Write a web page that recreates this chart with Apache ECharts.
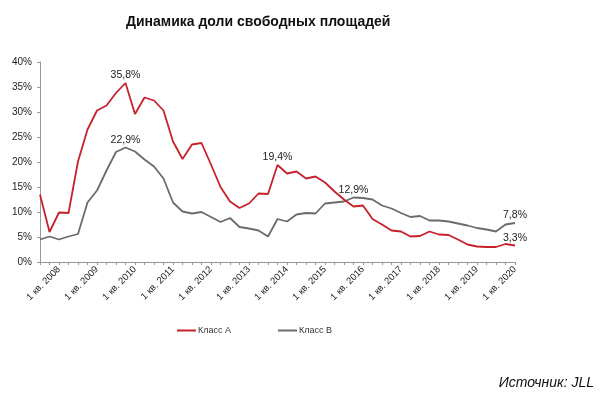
<!DOCTYPE html>
<html>
<head>
<meta charset="utf-8">
<script src="https://cdn.jsdelivr.net/npm/echarts@6/dist/echarts.min.js"></script>
<style>html,body{margin:0;padding:0;background:#fff}#c{width:600px;height:397px}</style>
</head>
<body>
<div id="c"></div>
<script>
const categories = [
  "3 кв. 2007","4 кв. 2007",
  "1 кв. 2008","2 кв. 2008","3 кв. 2008","4 кв. 2008",
  "1 кв. 2009","2 кв. 2009","3 кв. 2009","4 кв. 2009",
  "1 кв. 2010","2 кв. 2010","3 кв. 2010","4 кв. 2010",
  "1 кв. 2011","2 кв. 2011","3 кв. 2011","4 кв. 2011",
  "1 кв. 2012","2 кв. 2012","3 кв. 2012","4 кв. 2012",
  "1 кв. 2013","2 кв. 2013","3 кв. 2013","4 кв. 2013",
  "1 кв. 2014","2 кв. 2014","3 кв. 2014","4 кв. 2014",
  "1 кв. 2015","2 кв. 2015","3 кв. 2015","4 кв. 2015",
  "1 кв. 2016","2 кв. 2016","3 кв. 2016","4 кв. 2016",
  "1 кв. 2017","2 кв. 2017","3 кв. 2017","4 кв. 2017",
  "1 кв. 2018","2 кв. 2018","3 кв. 2018","4 кв. 2018",
  "1 кв. 2019","2 кв. 2019","3 кв. 2019","4 кв. 2019",
  "1 кв. 2020"
];
const classA = [
  13.5, 6.0, 9.9, 9.8, 20.1, 26.5, 30.3, 31.3, 33.8, 35.8,
  29.6, 32.9, 32.3, 30.3, 24.1, 20.6, 23.5, 23.8, 19.5, 15.0,
  12.1, 10.8, 11.7, 13.7, 13.6, 19.4, 17.7, 18.1, 16.7, 17.1,
  15.9, 14.1, 12.5, 11.1, 11.3, 8.6, 7.5, 6.3, 6.1, 5.1,
  5.2, 6.1, 5.5, 5.4, 4.5, 3.5, 3.1, 3.0, 3.0, 3.6,
  3.3
];
const classB = [
  4.5, 5.1, 4.5, 5.1, 5.6, 11.9, 14.3, 18.3, 22.0, 22.9,
  22.1, 20.5, 19.1, 16.7, 11.9, 10.1, 9.7, 10.0, 9.0, 8.0,
  8.8, 7.0, 6.7, 6.3, 5.1, 8.6, 8.1, 9.5, 9.8, 9.7,
  11.7, 11.9, 12.1, 12.9, 12.8, 12.5, 11.3, 10.7, 9.8, 9.0,
  9.2, 8.3, 8.3, 8.1, 7.7, 7.3, 6.8, 6.5, 6.1, 7.5,
  7.8
];
const labeledA = [9, 25, 50];
const labeledB = [9, 33, 50];
const seriesNames = ["Класс А", "Класс В"];
const titleText = "Динамика доли свободных площадей";
const sourceText = "Источник: JLL";

const FONT = "Arial, 'Liberation Sans', sans-serif";
function fmt(v){ return v.toFixed(1).replace('.', ',') + '%'; }
function build(vals, idx){
  return vals.map((v, i) => idx.includes(i)
    ? {value: v, label: {show: true, position: 'top', distance: 2, formatter: p => fmt(p.value),
        color: '#222', fontSize: 10.5, fontFamily: FONT}}
    : v);
}

const chart = echarts.init(document.getElementById('c'), null, {renderer: 'canvas'});
chart.setOption({
  animation: false,
  backgroundColor: '#fff',
  title: {
    text: titleText, left: 126, top: 15, padding: 0,
    textStyle: {fontFamily: FONT, fontSize: 14, fontWeight: 'bold', color: '#111'}
  },
  legend: {
    data: seriesNames, left: 177, top: 326, padding: 0, itemWidth: 19, itemHeight: 2, itemGap: 47,
    icon: 'rect',
    textStyle: {fontFamily: FONT, fontSize: 9, color: '#333', padding: [0,0,0,-3]}
  },
  grid: {left: 40, right: 85, top: 62, bottom: 135, containLabel: false},
  xAxis: {
    type: 'category', data: categories, boundaryGap: false,
    axisLine: {lineStyle: {color: '#999'}},
    axisTick: {show: true, interval: 0, length: 3, lineStyle: {color: '#999'}},
    axisLabel: {
      interval: (i) => i % 4 === 2, rotate: 45, fontSize: 9.5, fontFamily: FONT, color: '#222', margin: 6
    },
    splitLine: {show: false}
  },
  yAxis: {
    type: 'value', min: 0, max: 40, interval: 5,
    axisLine: {show: true, lineStyle: {color: '#999'}},
    axisTick: {show: true, length: 3, lineStyle: {color: '#999'}},
    axisLabel: {formatter: '{value}%', fontSize: 10, fontFamily: FONT, color: '#222', margin: 8},
    splitLine: {show: false}
  },
  series: [
    {name: seriesNames[0], type: 'line', data: build(classA, labeledA), symbol: 'circle', symbolSize: 0,
     showAllSymbol: true,
     lineStyle: {color: '#C8202B', width: 1.8}, itemStyle: {color: '#C8202B'}, z: 3},
    {name: seriesNames[1], type: 'line', data: build(classB, labeledB), symbol: 'circle', symbolSize: 0,
     showAllSymbol: true,
     lineStyle: {color: '#6B6B6B', width: 1.8}, itemStyle: {color: '#6B6B6B'}, z: 2}
  ],
  graphic: [{
    type: 'text', right: 6, top: 376,
    style: {text: sourceText, font: 'italic 14px ' + FONT, fill: '#111'}
  }]
});
</script>
</body>
</html>
